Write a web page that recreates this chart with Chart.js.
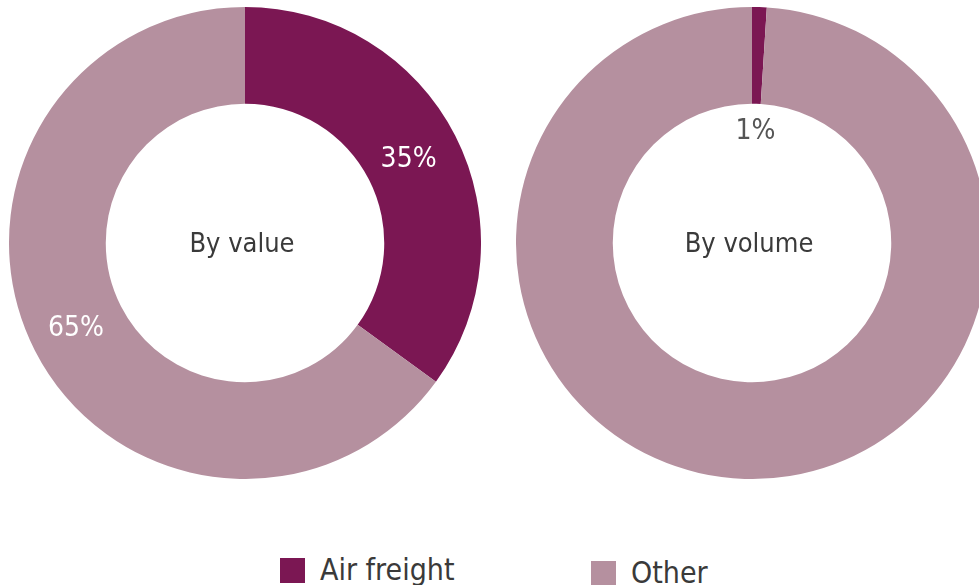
<!DOCTYPE html>
<html>
<head>
<meta charset="utf-8">
<script src="https://cdn.jsdelivr.net/npm/chart.js@4"></script>
<style>
  html, body { margin: 0; padding: 0; background: #fff; width: 979px; height: 585px; overflow: hidden; }
  body { position: relative; font-family: "DejaVu Sans Condensed", "Liberation Sans", sans-serif; }
  .wrap { position: absolute; top: 7px; width: 472px; height: 472px; }
  #w1 { left: 9px; }
  #w2 { left: 516px; }
  .leg { position: absolute; display: flex; align-items: center; color: #3a3a3a; font-size: 30px; line-height: 1; }
  .leg .sw { width: 25px; height: 25px; margin-right: 15px; }
</style>
</head>
<body>
<div class="wrap" id="w1"><canvas id="c1" width="472" height="472"></canvas></div>
<div class="wrap" id="w2"><canvas id="c2" width="472" height="472"></canvas></div>
<div id="legend"></div>
<script>
// ---- data ----
const categories = ["Air freight", "Other"];
const byValue = [35, 65];
const byVolume = [1, 99];
const chartTitles = ["By value", "By volume"];
const colors = ["#7b1753", "#b5909f"];

const FONT = '"DejaVu Sans Condensed", "Liberation Sans", sans-serif';

function labelPlugin(title, specs) {
  return {
    id: 'labels',
    afterDatasetsDraw(chart) {
      const ctx = chart.ctx;
      const meta = chart.getDatasetMeta(0);
      const data = chart.data.datasets[0].data;
      const total = data.reduce((a, b) => a + b, 0);
      ctx.save();
      ctx.textAlign = 'center';
      ctx.textBaseline = 'middle';
      meta.data.forEach((arc, i) => {
        const spec = specs[i];
        if (!spec) return;
        const p = arc.getProps(['x', 'y', 'startAngle', 'endAngle', 'innerRadius', 'outerRadius'], true);
        const mid = (p.startAngle + p.endAngle) / 2;
        const r = spec.inside ? p.innerRadius * spec.inside : (p.innerRadius + p.outerRadius) / 2 + (spec.offset || 0);
        const x = p.x + Math.cos(mid) * r;
        const y = p.y + Math.sin(mid) * r;
        ctx.fillStyle = spec.color;
        ctx.font = '28px ' + FONT;
        ctx.fillText(Math.round(data[i] / total * 100) + '%', x, y);
      });
      const a0 = meta.data[0];
      ctx.fillStyle = '#3a3a3a';
      ctx.font = '27px ' + FONT;
      ctx.fillText(title, a0.x - 3, a0.y + 2);
      ctx.restore();
    }
  };
}

function makeChart(id, values, title, sliceSpecs) {
  return new Chart(document.getElementById(id), {
    type: 'doughnut',
    data: {
      labels: categories,
      datasets: [{ data: values, backgroundColor: colors, borderWidth: 0 }]
    },
    options: {
      responsive: false,
      animation: false,
      cutout: '59%',
      layout: { padding: 0 },
      plugins: {
        legend: { display: false },
        tooltip: { enabled: false }
      }
    },
    plugins: [labelPlugin(title, sliceSpecs)]
  });
}

makeChart('c1', byValue, chartTitles[0], [
  { color: '#ffffff', offset: -4 },
  { color: '#ffffff', offset: 2 }
]);
makeChart('c2', byVolume, chartTitles[1], [
  { color: '#555555', inside: 0.8 },
  null
]);

// legend
const legPos = [{ left: 280, top: 555 }, { left: 591, top: 558 }];
const legend = document.getElementById('legend');
categories.forEach((c, i) => {
  const d = document.createElement('div');
  d.className = 'leg';
  d.style.left = legPos[i].left + 'px';
  d.style.top = legPos[i].top + 'px';
  d.innerHTML = '<span class="sw" style="background:' + colors[i] + '"></span><span>' + c + '</span>';
  legend.appendChild(d);
});
</script>
</body>
</html>
